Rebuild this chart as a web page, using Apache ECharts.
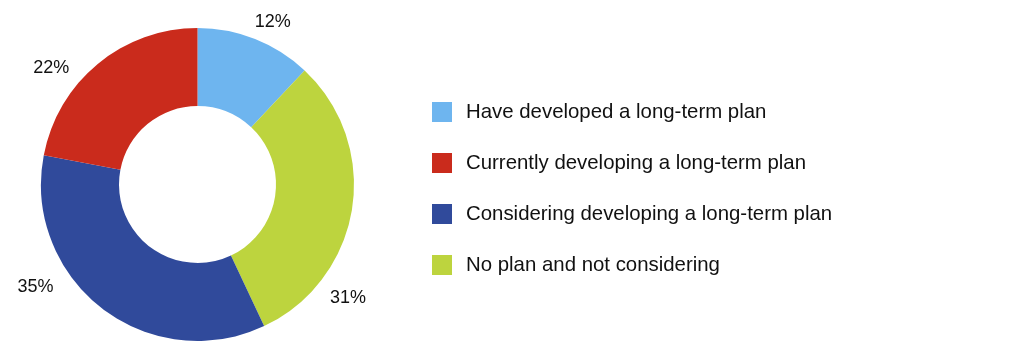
<!DOCTYPE html>
<html><head><meta charset="utf-8">
<script src="https://cdn.jsdelivr.net/npm/echarts@6/dist/echarts.min.js"></script>
<style>html,body{margin:0;padding:0;background:#fff}#c{width:1024px;height:355px}</style>
</head><body><div id="c"></div>
<script>
// Slice order (clockwise from top)
const categories = ["Have developed a long-term plan", "No plan and not considering", "Considering developing a long-term plan", "Currently developing a long-term plan"];
const values = [12, 31, 35, 22];
const legendOrder = ["Have developed a long-term plan", "Currently developing a long-term plan", "Considering developing a long-term plan", "No plan and not considering"];
const colors = ["#6EB5EF", "#BDD43E", "#304A9B", "#CA2B1C"];
const labelOffsets = [[-4, -8], [-32, 87], [-42, -29], [-22, 12]];

const chart = echarts.init(document.getElementById('c'), null, {renderer: 'canvas'});
chart.setOption({
  animation: false,
  backgroundColor: '#fff',
  textStyle: {fontFamily: 'Liberation Sans, Arial, sans-serif'},
  legend: {
    orient: 'vertical', left: 432, top: 102, padding: 0,
    data: legendOrder, icon: 'rect', itemWidth: 20, itemHeight: 20, itemGap: 31,
    textStyle: {fontSize: 20.4, color: '#111', padding: [0, 0, 0, 9], fontFamily: 'Liberation Sans, Arial, sans-serif'}
  },
  series: [{
    type: 'pie', center: [197.5, 184.5], radius: [78.5, 156.5],
    startAngle: 90, clockwise: true, avoidLabelOverlap: false,
    label: {show: true, position: 'outside', formatter: '{c}%', fontSize: 18, color: '#111', distanceToLabelLine: 0,
      fontFamily: 'Liberation Sans, Arial, sans-serif'},
    labelLine: {show: false, length: 10, length2: 0},
    emphasis: {disabled: true},
    data: categories.map((n, i) => ({name: n, value: values[i], itemStyle: {color: colors[i]}, label: {offset: labelOffsets[i]}}))
  }]
});
</script></body></html>
